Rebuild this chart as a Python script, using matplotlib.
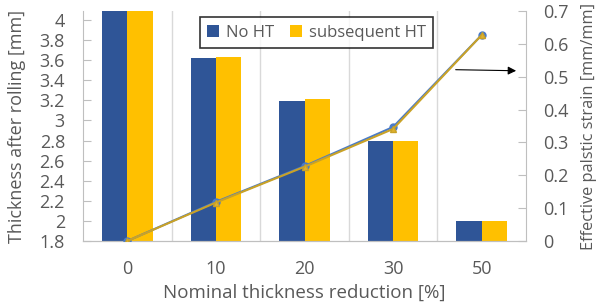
import matplotlib.pyplot as plt
import numpy as np

# Daten
reductions = ["0", "10", "20", "30", "50"]
thick_no_ht = [4.15, 3.62, 3.19, 2.80, 2.00]
thick_sub_ht = [4.15, 3.63, 3.21, 2.80, 2.00]
strain_no_ht = [0.0, 0.119, 0.228, 0.347, 0.627]
strain_sub_ht = [0.0, 0.117, 0.226, 0.341, 0.627]
left_ticks = [1.8, 2.0, 2.2, 2.4, 2.6, 2.8, 3.0, 3.2, 3.4, 3.6, 3.8, 4.0]
right_ticks = [0.0, 0.1, 0.2, 0.3, 0.4, 0.5, 0.6, 0.7]

gray = "#595959"
axis_gray = "#BFBFBF"
plt.rcParams["font.family"] = ["Open Sans", "DejaVu Sans"]

fig = plt.figure(figsize=(6.0, 3.04), dpi=100)
ax = fig.add_axes([83 / 600, 1 - 241 / 304, 443 / 600, 230 / 304])
ax2 = ax.twinx()

x = np.arange(len(reductions))
w = 0.285
ax.bar(x - w / 2, thick_no_ht, w, color="#2F5597", label="No HT", zorder=2)
ax.bar(x + w / 2, thick_sub_ht, w, color="#FFC000", label="subsequent HT", zorder=2)
ax.set_xlim(-0.5, len(reductions) - 0.5)
ax.set_ylim(1.8, 4.09)
ax.set_yticks(left_ticks)
ax.set_yticklabels([f"{v:g}" for v in left_ticks])
ax.set_xticks(x)
ax.set_xticklabels(reductions)

# vertikale Gitterlinien zwischen Kategorien
for b in np.arange(0.5, len(reductions) - 0.5):
    ax.axvline(b, color="#D9D9D9", linewidth=1.0, zorder=1)

ax2.plot(x, strain_no_ht, "-o", color="#4A7BC8", markersize=5, linewidth=1.5,
         markerfacecolor="#4A7BC8", zorder=3)
ax2.plot(x, strain_sub_ht, "-^", color="#C9A227", markersize=5, linewidth=1.5,
         markerfacecolor="#E0B22E", zorder=4)
ax2.set_ylim(0, 0.7)
ax2.set_yticks(right_ticks)
ax2.set_yticklabels([f"{v:g}" for v in right_ticks])

for a in (ax, ax2):
    a.spines["top"].set_visible(False)
    for s in ("left", "right", "bottom"):
        a.spines[s].set_color(axis_gray)
    a.tick_params(axis="y", direction="in", length=6, color=axis_gray,
                  labelsize=13, labelcolor=gray, pad=13)
    a.tick_params(axis="x", length=0, labelsize=13, labelcolor=gray, pad=14)
ax.spines["right"].set_visible(False)
ax2.spines["left"].set_visible(False)
ax2.tick_params(axis="y", pad=12)

ax.set_xlabel("Nominal thickness reduction [%]", fontsize=13.5, color=gray)
ax.xaxis.set_label_coords(0.5, -0.185)
ax.set_ylabel("Thickness after rolling [mm]", fontsize=13, color=gray)
ax.yaxis.set_label_coords(-0.128, 0.5)
ax2.set_ylabel("Effective palstic strain [mm/mm]", fontsize=11.8, color=gray)
ax2.yaxis.set_label_coords(1.124, 0.5)

leg = ax.legend(loc="upper left", bbox_to_anchor=(0.245, 1.01), ncol=2,
                fontsize=12, frameon=True, fancybox=False, handlelength=0.7,
                handleheight=0.7, columnspacing=1.0, handletextpad=0.4,
                borderpad=0.45)
leg.get_frame().set_edgecolor("black")
leg.get_frame().set_linewidth(1.2)
for t in leg.get_texts():
    t.set_color(gray)

# Pfeil zur rechten Achse
ax2.annotate("", xy=(0.984, 0.74), xycoords="axes fraction",
             xytext=(0.835, 0.745), textcoords="axes fraction",
             arrowprops=dict(arrowstyle="-|>", color="black", lw=0.8,
                             mutation_scale=12))

fig.savefig("out.png", dpi=100)
